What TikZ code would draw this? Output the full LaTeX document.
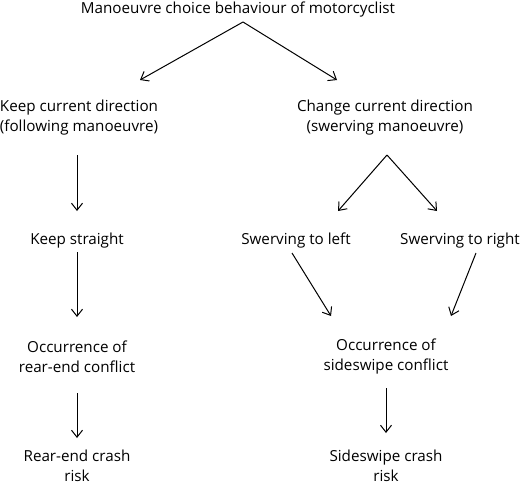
\documentclass[tikz,border=0pt]{standalone}
\usepackage{fontspec}
\setmainfont{Open Sans}
\usetikzlibrary{arrows.meta}
\begin{document}
\begin{tikzpicture}[x=1pt,y=-1pt,
  lbl/.style={align=center,font=\fontsize{15.2}{20}\selectfont,inner sep=0pt},
  arr/.style={-{Straight Barb[length=7pt,width=11pt]},line width=1pt}]
\useasboundingbox (0,0) rectangle (520,485);
\node[lbl] (top) at (238,10) {Manoeuvre choice behaviour of motorcyclist};
\node[lbl] (keep) at (79,118) {Keep current direction\\(following manoeuvre)};
\node[lbl] (change) at (385,118) {Change current direction\\(swerving manoeuvre)};
\node[lbl] (straight) at (77,241) {Keep straight};
\node[lbl] (left) at (296,241) {Swerving to left};
\node[lbl] (right) at (460,241) {Swerving to right};
\node[lbl] (rear) at (77,357) {Occurrence of\\rear-end conflict};
\node[lbl] (side) at (386,357) {Occurrence of\\sideswipe conflict};
\node[lbl] (rrisk) at (77,466) {Rear-end crash\\risk};
\node[lbl] (srisk) at (386,466) {Sideswipe crash\\risk};
\coordinate (a0) at (243,22);
\coordinate (a1) at (140,80);
\coordinate (a2) at (337,80);
\coordinate (b0) at (77,155);
\coordinate (b1) at (77,211);
\coordinate (c0) at (387,155);
\coordinate (c1) at (338,211);
\coordinate (c2) at (437,211);
\coordinate (d0) at (77,252);
\coordinate (d1) at (77,317);
\coordinate (e0) at (292,253);
\coordinate (e1) at (331,316);
\coordinate (f0) at (476,253);
\coordinate (f1) at (451,316);
\coordinate (g0) at (77,393);
\coordinate (g1) at (77,438);
\coordinate (h0) at (386,388);
\coordinate (h1) at (386,433);
\draw[arr] (a0) -- (a1);
\draw[arr] (a0) -- (a2);
\draw[arr] (b0) -- (b1);
\draw[arr] (c0) -- (c1);
\draw[arr] (c0) -- (c2);
\draw[arr] (d0) -- (d1);
\draw[arr] (e0) -- (e1);
\draw[arr] (f0) -- (f1);
\draw[arr] (g0) -- (g1);
\draw[arr] (h0) -- (h1);
\end{tikzpicture}
\end{document}
